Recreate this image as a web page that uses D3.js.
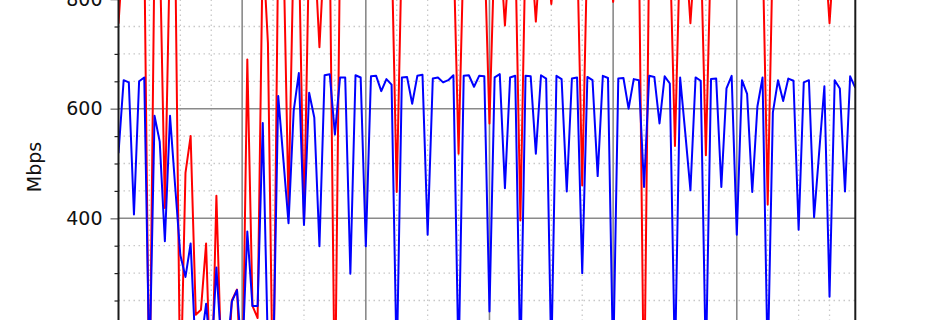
<!DOCTYPE html>
<html>
<head>
<meta charset="utf-8">
<script src="https://cdn.jsdelivr.net/npm/d3@7"></script>
<style>
  html, body { margin: 0; padding: 0; background: #fff; overflow: hidden; }
  svg { display: block; font-family: "DejaVu Sans", sans-serif; }
</style>
</head>
<body>
<svg id="chart"></svg>
<script>
const width = 950;
const height = 320;

// hourly samples, index = hour
const blueMbps = [
  519, 652, 648, 407, 650, 657, 120, 587, 540, 358, 587, 458,
  333, 293, 354, 150, 170, 244, 140, 310, 160, 150, 248, 269,
  140, 376, 240, 240, 574, 160, 120, 623, 507, 391, 596, 665,
  388, 629, 584, 349, 661, 663, 553, 657, 657, 299, 661, 657,
  349, 659, 660, 632, 654, 644, 130, 657, 658, 609, 660, 662,
  370, 655, 657, 648, 652, 661, 130, 660, 661, 640, 660, 659,
  230, 657, 663, 455, 657, 660, 130, 660, 659, 518, 661, 655,
  140, 660, 654, 449, 655, 657, 300, 658, 652, 477, 660, 656,
  130, 655, 656, 600, 654, 652, 457, 660, 658, 573, 659, 646,
  130, 657, 556, 451, 657, 651, 130, 654, 655, 457, 637, 660,
  370, 652, 627, 448, 604, 657, 130, 593, 652, 614, 655, 651,
  379, 648, 652, 402, 522, 641, 257, 652, 637, 449, 659, 638
];
const redMbps = [
  755, 900, 900, 900, 900, 900, 40, 900, 900, 419, 900, 900,
  60, 483, 550, 224, 233, 354, 50, 441, 120, 90, 250, 270,
  60, 690, 240, 218, 900, 720, 40, 900, 900, 420, 900, 900,
  390, 900, 900, 712, 900, 900, 40, 900, 900, 900, 900, 900,
  900, 900, 900, 900, 900, 900, 448, 900, 900, 900, 900, 900,
  900, 900, 900, 900, 900, 900, 518, 900, 900, 900, 900, 900,
  573, 900, 900, 752, 900, 900, 396, 900, 900, 759, 900, 900,
  791, 900, 900, 900, 900, 900, 460, 900, 900, 900, 900, 900,
  795, 900, 900, 900, 900, 900, 40, 900, 900, 900, 900, 900,
  532, 900, 900, 756, 900, 900, 515, 900, 900, 900, 900, 900,
  900, 900, 900, 900, 900, 900, 425, 900, 900, 900, 900, 900,
  900, 900, 900, 900, 900, 900, 756, 900, 900, 900, 900, 900
];
const yTicks = [400, 600, 800];
const yMinorTicks = d3.range(200, 851, 50).filter(v => v % 200 !== 0);
const xMajorTicks = [0, 24, 48, 72, 96, 120];
const xMinorTicks = d3.range(0, 144, 6).filter(h => h % 24 !== 0);

const left = 118.5, right = 855.3;

const x = d3.scaleLinear().domain([0, blueMbps.length - 1]).range([left, right]);
const y = d3.scaleLinear().domain([400, 600]).range([218.3, 108.7]);

const svg = d3.select('#chart').attr('width', width).attr('height', height);

svg.append('defs').append('clipPath').attr('id', 'plot-clip')
  .append('rect')
  .attr('x', left).attr('y', y(1000))
  .attr('width', right - left).attr('height', y(0) - y(1000));

// minor grid (dotted)
const grid = svg.append('g');
grid.selectAll('.ymin').data(yMinorTicks).join('line')
  .attr('x1', left).attr('x2', right)
  .attr('y1', d => y(d)).attr('y2', d => y(d))
  .attr('stroke', '#c8c8c8').attr('stroke-width', 1.3)
  .attr('stroke-dasharray', '1.5,3.5');
grid.selectAll('.xmin').data(xMinorTicks).join('line')
  .attr('x1', d => x(d)).attr('x2', d => x(d))
  .attr('y1', y(1000)).attr('y2', y(0))
  .attr('stroke', '#c8c8c8').attr('stroke-width', 1.3)
  .attr('stroke-dasharray', '1.5,3.5');

// major grid
grid.selectAll('.ymaj').data(yTicks).join('line')
  .attr('x1', left).attr('x2', right)
  .attr('y1', d => y(d)).attr('y2', d => y(d))
  .attr('stroke', '#8a8a8a').attr('stroke-width', 1.6);
grid.selectAll('.xmaj').data(xMajorTicks.slice(1)).join('line')
  .attr('x1', d => x(d)).attr('x2', d => x(d))
  .attr('y1', y(1000)).attr('y2', y(0))
  .attr('stroke', '#8a8a8a').attr('stroke-width', 1.6);

// series
const line = d3.line().x((d, i) => x(i)).y(d => y(d));
const plot = svg.append('g').attr('clip-path', 'url(#plot-clip)');
plot.append('path')
  .attr('d', line(redMbps))
  .attr('fill', 'none').attr('stroke', '#ff0000')
  .attr('stroke-width', 2).attr('stroke-linejoin', 'round');
plot.append('path')
  .attr('d', line(blueMbps))
  .attr('fill', 'none').attr('stroke', '#0000ff')
  .attr('stroke-width', 2).attr('stroke-linejoin', 'round');

// y axis
const yAxis = svg.append('g').attr('transform', `translate(${left},0)`)
  .call(d3.axisLeft(y).tickValues(yTicks).tickSize(8).tickPadding(8).tickFormat(d3.format('d')));
yAxis.select('.domain').remove();
yAxis.selectAll('line').attr('stroke', '#8a8a8a').attr('stroke-width', 1.6);
yAxis.selectAll('text').attr('font-size', 19).attr('fill', '#111')
  .attr('font-family', '"DejaVu Sans", sans-serif');

const yMinorAxis = svg.append('g').attr('transform', `translate(${left},0)`)
  .call(d3.axisLeft(y).tickValues(yMinorTicks).tickSize(4).tickFormat(''));
yMinorAxis.select('.domain').remove();
yMinorAxis.selectAll('line').attr('stroke', '#222').attr('stroke-width', 1.2);

// spines
svg.append('line')
  .attr('x1', left).attr('x2', left).attr('y1', y(1000)).attr('y2', y(0))
  .attr('stroke', '#1a1a1a').attr('stroke-width', 2);
svg.append('line')
  .attr('x1', right).attr('x2', right).attr('y1', y(1000)).attr('y2', y(0))
  .attr('stroke', '#1a1a1a').attr('stroke-width', 2);

// y label
svg.append('text')
  .attr('transform', 'translate(41,167) rotate(-90)')
  .attr('text-anchor', 'middle')
  .attr('font-size', 19).attr('fill', '#111')
  .text('Mbps');
</script>
</body>
</html>
